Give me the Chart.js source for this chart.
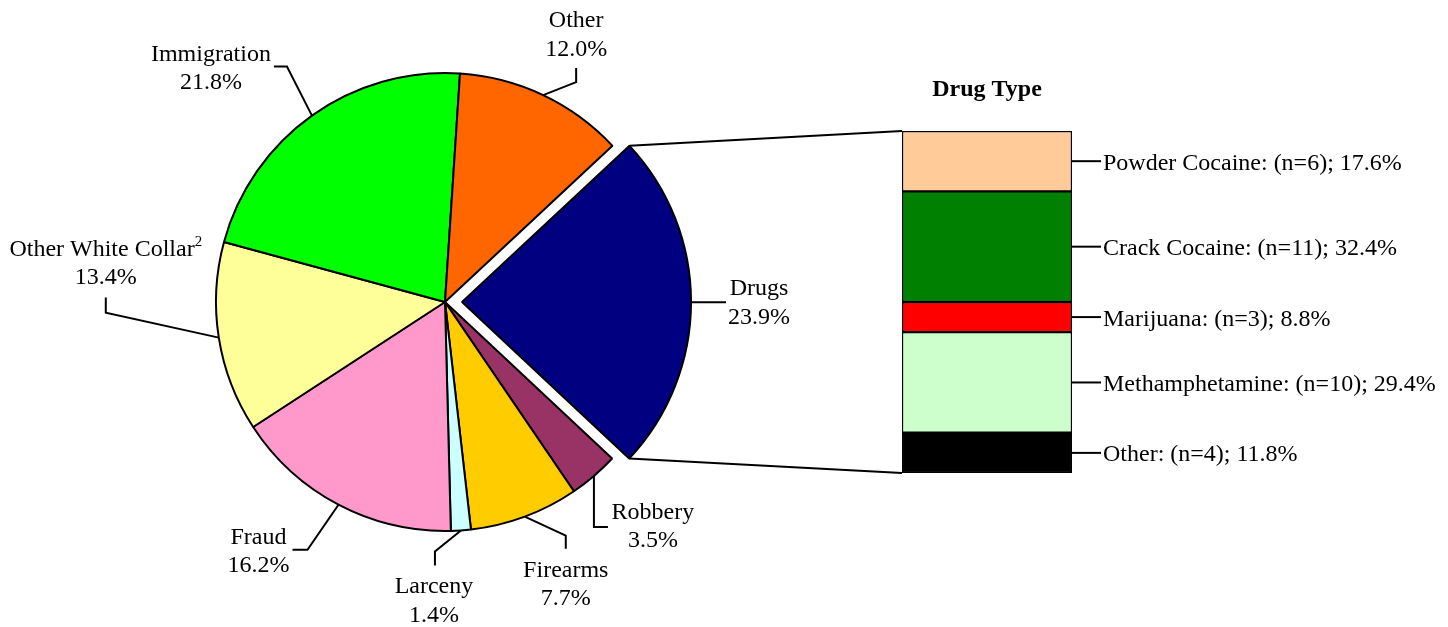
<!DOCTYPE html>
<html>
<head>
<meta charset="utf-8">
<title>Offense type and drug type</title>
<script src="https://cdn.jsdelivr.net/npm/chart.js@4.4.0/dist/chart.umd.min.js"></script>
<style>
  body { margin: 0; background: #fff; }
  #wrap { position: relative; width: 1448px; height: 627px; }
  #wrap canvas { position: absolute; left: 0; top: 0; }
</style>
</head>
<body>
<div id="wrap">
  <canvas id="pieChart" width="1448" height="627"></canvas>
  <canvas id="barChart" width="1448" height="627"></canvas>
</div>
<script>
const offenseLabels = ['Drugs', 'Robbery', 'Firearms', 'Larceny', 'Fraud', 'Other White Collar', 'Immigration', 'Other']
const offensePercents = [23.9, 3.5, 7.7, 1.4, 16.2, 13.4, 21.8, 12.0]
const offenseNotes = ['', '', '', '', '', '2', '', '']
const offenseColors = ['#000080', '#993366', '#FFCC00', '#CCFFFF', '#FF99CC', '#FFFF99', '#00FF00', '#FF6600']

const drugLabels = ['Powder Cocaine', 'Crack Cocaine', 'Marijuana', 'Methamphetamine', 'Other']
const drugCounts = [6, 11, 3, 10, 4]
const drugColors = ['#FFCC99', '#008000', '#FF0000', '#CCFFCC', '#000000']
const drugTotal = drugCounts.reduce((a, b) => a + b, 0)

const FONT = '24px "Liberation Serif", "Times New Roman", serif'
const LINE_GAP = 28.5

// label placement, relative to the rim point each leader line starts from
const labelLayout = [
    { path: [[35, 0]], text: [68, -7] },
    { path: [[0, 51], [14, 51]], text: [59, 43] },
    { path: [[41, 19], [41, 32]], text: [41, 60] },
    { path: [[-26, 21], [-26, 35]], text: [-27, 63] },
    { path: [[-31, 45], [-46, 45]], text: [-80, 39] },
    { path: [[-113, -25], [-113, -40]], text: [-113, -82] },
    { path: [[-25, -49], [-38, -49]], text: [-101, -55] },
    { path: [[33, -13], [33, -27]], text: [33, -68] }
]

// chart.js v4 moves an exploded arc by offset / 4
const arcShift = arc => (arc.options.offset || 0) / 4

const pieLabels = {
    id: 'pieLabels',
    afterDraw(chart) {
        const ctx = chart.ctx
        const arcs = chart.getDatasetMeta(0).data
        ctx.save()
        ctx.strokeStyle = '#000'
        ctx.fillStyle = '#000'
        ctx.lineWidth = 2
        arcs.forEach((arc, i) => {
            const mid = (arc.startAngle + arc.endAngle) / 2
            const r = arc.outerRadius + arcShift(arc)
            const ax = arc.x + Math.cos(mid) * r
            const ay = arc.y + Math.sin(mid) * r
            const lay = labelLayout[i]

            ctx.beginPath()
            ctx.moveTo(ax, ay)
            lay.path.forEach(p => ctx.lineTo(ax + p[0], ay + p[1]))
            ctx.stroke()

            const tx = ax + lay.text[0]
            const ty = ay + lay.text[1]
            ctx.textBaseline = 'alphabetic'
            ctx.font = FONT
            const name = offenseLabels[i]
            const note = offenseNotes[i]
            if (note) {
                const w = ctx.measureText(name).width
                ctx.font = '15px "Liberation Serif", serif'
                const wn = ctx.measureText(note).width
                const left = tx - (w + wn) / 2
                ctx.textAlign = 'left'
                ctx.fillText(note, left + w, ty - 10)
                ctx.font = FONT
                ctx.fillText(name, left, ty)
            } else {
                ctx.textAlign = 'center'
                ctx.fillText(name, tx, ty)
            }
            ctx.textAlign = 'center'
            ctx.fillText(offensePercents[i].toFixed(1) + '%', tx, ty + LINE_GAP)
        })
        ctx.restore()
    }
}

const pieChart = new Chart(document.getElementById('pieChart'), {
    type: 'pie',
    data: {
        labels: offenseLabels,
        datasets: [{
            data: offensePercents,
            backgroundColor: offenseColors,
            borderColor: '#000',
            borderWidth: 2,
            offset: offenseLabels.map(n => n === 'Drugs' ? 68 : 0)
        }]
    },
    options: {
        responsive: false,
        animation: false,
        events: [],
        rotation: 47,
        radius: 229,
        layout: { padding: { left: 0, right: 558, top: 0, bottom: 23 } },
        plugins: { legend: { display: false }, tooltip: { enabled: false } }
    },
    plugins: [pieLabels]
})

const drugBarLabels = {
    id: 'drugBarLabels',
    afterDraw(chart) {
        const ctx = chart.ctx
        ctx.save()
        ctx.strokeStyle = '#000'
        ctx.fillStyle = '#000'
        ctx.lineWidth = 2
        ctx.font = FONT
        ctx.textAlign = 'left'
        ctx.textBaseline = 'alphabetic'

        let barTop = Infinity, barBottom = -Infinity, barLeft = 0, barRight = 0, barMid = 0
        drugLabels.forEach((name, i) => {
            const bar = chart.getDatasetMeta(i).data[0]
            const top = Math.min(bar.y, bar.base)
            const bottom = Math.max(bar.y, bar.base)
            barTop = Math.min(barTop, top)
            barBottom = Math.max(barBottom, bottom)
            barLeft = bar.x - bar.width / 2
            barRight = bar.x + bar.width / 2
            barMid = bar.x
            const y = (top + bottom) / 2
            ctx.beginPath()
            ctx.moveTo(barRight, y)
            ctx.lineTo(barRight + 29, y)
            ctx.stroke()
            const pct = (drugCounts[i] / drugTotal * 100).toFixed(1)
            ctx.fillText(name + ': (n=' + drugCounts[i] + '); ' + pct + '%', barRight + 31, y + 8.5)
        })

        // title over the bar
        ctx.font = 'bold 24px "Liberation Serif", "Times New Roman", serif'
        ctx.textAlign = 'center'
        ctx.fillText('Drug Type', barMid, barTop - 35)

        // lines from the exploded slice to the bar
        const arc = pieChart.getDatasetMeta(0).data[0]
        const mid = (arc.startAngle + arc.endAngle) / 2
        const cx = arc.x + Math.cos(mid) * arcShift(arc)
        const cy = arc.y + Math.sin(mid) * arcShift(arc)
        const R = arc.outerRadius
        ctx.beginPath()
        ctx.moveTo(cx + Math.cos(arc.startAngle) * R, cy + Math.sin(arc.startAngle) * R)
        ctx.lineTo(barLeft, barTop)
        ctx.moveTo(cx + Math.cos(arc.endAngle) * R, cy + Math.sin(arc.endAngle) * R)
        ctx.lineTo(barLeft, barBottom)
        ctx.stroke()
        ctx.restore()
    }
}

new Chart(document.getElementById('barChart'), {
    type: 'bar',
    data: {
        labels: ['Drugs'],
        datasets: drugLabels.map((name, i) => ({
            label: name,
            data: [drugCounts[i]],
            backgroundColor: drugColors[i],
            borderColor: '#000',
            borderWidth: 1.5,
            borderSkipped: false,
            barPercentage: 1,
            categoryPercentage: 1
        }))
    },
    options: {
        responsive: false,
        animation: false,
        events: [],
        layout: { padding: { left: 902, right: 376, top: 131, bottom: 154 } },
        plugins: { legend: { display: false }, tooltip: { enabled: false } },
        scales: {
            x: { stacked: true, display: false },
            y: { stacked: true, display: false, min: 0, max: drugTotal, reverse: true }
        }
    },
    plugins: [drugBarLabels]
})
</script>
</body>
</html>
